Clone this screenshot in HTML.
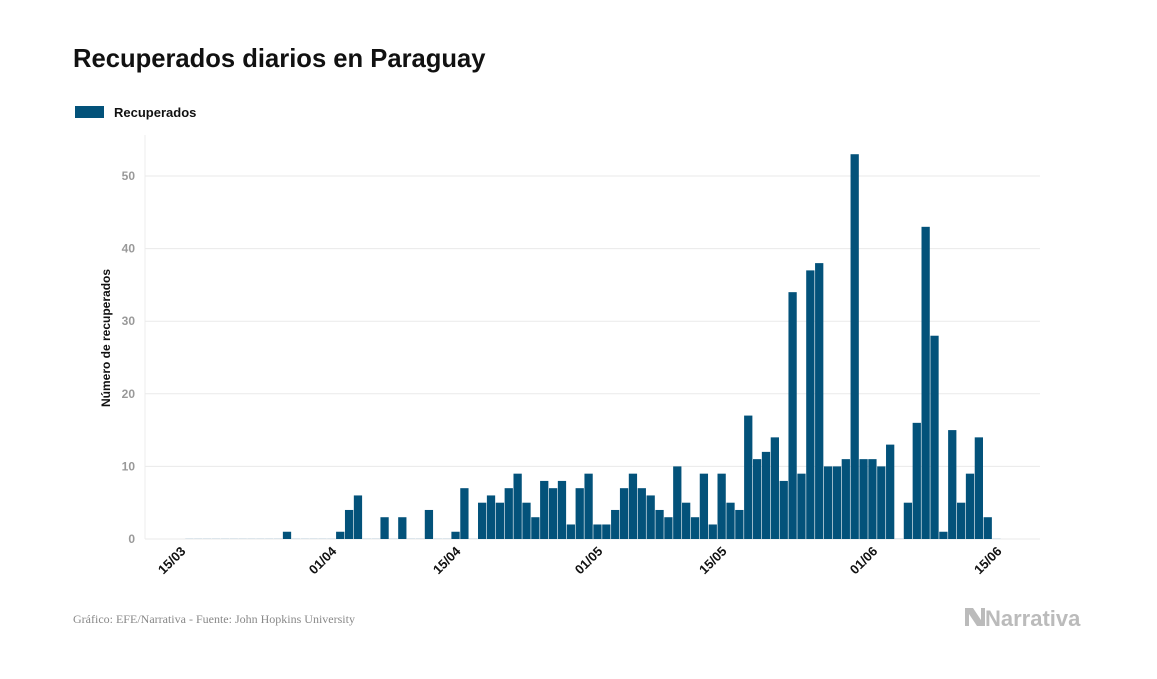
<!DOCTYPE html>
<html><head><meta charset="utf-8"><style>
body{margin:0;background:#fff;width:1157px;height:674px;overflow:hidden;font-family:"Liberation Sans",sans-serif}
</style></head><body>
<svg width="1157" height="674">
<text x="73" y="67" font-size="25.6" font-weight="bold" fill="#111">Recuperados diarios en Paraguay</text>
<g><rect x="75" y="106" width="29" height="12" fill="#03527a"/><text x="114" y="117" font-size="13" font-weight="bold" fill="#111">Recuperados</text></g>
<g id="grid"></g><g id="bars"></g><g id="xt"></g>
<text transform="translate(110,338) rotate(-90)" text-anchor="middle" font-size="12" font-weight="bold" fill="#111">Número de recuperados</text>
<text x="73" y="623" font-family="Liberation Serif,serif" font-size="12" fill="#888">Gráfico: EFE/Narrativa - Fuente: John Hopkins University</text>
<g><path d="M965 608 L973 608 L981 620 L981 608 L985 608 L985 626 L977 626 L969 614 L969 626 L965 626Z" fill="#bbb"/><text x="985" y="626" font-size="22" font-weight="bold" fill="#bbb">Narrativa</text></g>
</svg>
<script>
const values=[0,0,0,0,0,0,0,0,0,0,0,1,0,0,0,0,0,1,4,6,0,0,3,0,3,0,0,4,0,0,1,7,0,5,6,5,7,9,5,3,8,7,8,2,7,9,2,2,4,7,9,7,6,4,3,10,5,3,9,2,9,5,4,17,11,12,14,8,34,9,37,38,10,10,11,53,11,11,10,13,0,5,16,43,28,1,15,5,9,14,3,0];
const yTicks=[0,10,20,30,40,50];
const xTickLabels=["15/03","01/04","15/04","01/05","15/05","01/06","15/06"];
const xTickIdx=[0,17,31,47,61,78,92];
const NS="http://www.w3.org/2000/svg";
const x0=185,step=8.87,y0=539,k=7.26;
const X=i=>x0+i*step, Y=v=>y0-v*k;
const mk=(t,a)=>{const e=document.createElementNS(NS,t);for(const q in a)e.setAttribute(q,a[q]);return e;};
const g=document.getElementById('grid'),b=document.getElementById('bars'),xt=document.getElementById('xt');
g.appendChild(mk('line',{x1:145,x2:145,y1:135,y2:539,stroke:'#eee'}));
yTicks.forEach(v=>{
 const l=mk('line',{x1:145,x2:1040,y1:Y(v),y2:Y(v),stroke:'#eaeaea'});
 
 
 g.appendChild(l);
 const t=mk('text',{x:135,y:Y(v)+4,'text-anchor':'end','font-size':12,'font-weight':'bold',fill:'#999'});
 t.textContent=v;
 
 
 g.appendChild(t);
});
values.forEach((v,i)=>{
 const h=Math.max(v*k,1);
 const r=mk('rect',{x:X(i)+0.3,y:y0-h,width:step-0.6,height:h,fill:v?'#03527a':'#dde6ec'});
 
 
 b.appendChild(r);
});
xTickLabels.forEach((s,j)=>{
 const cx=X(xTickIdx[j])+step/2;
 const t=mk('text',{transform:`translate(${cx-3},${552}) rotate(-45)`,'text-anchor':'end','font-size':13,'font-weight':'bold',fill:'#111'});
 t.textContent=s;
 
 
 xt.appendChild(t);
});
</script>
</body></html>
